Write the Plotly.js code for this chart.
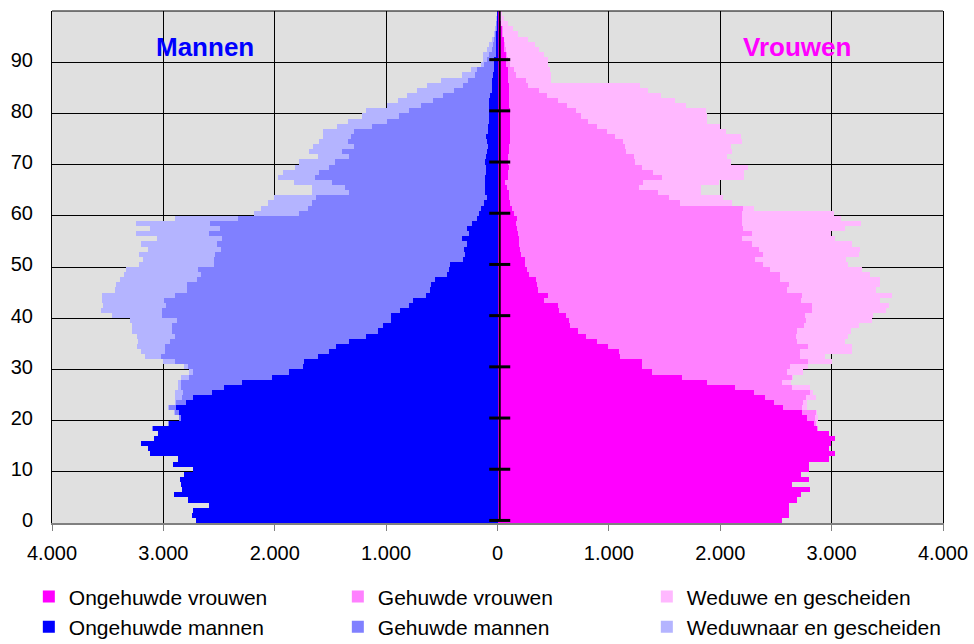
<!DOCTYPE html>
<html><head><meta charset="utf-8">
<script src="https://cdn.plot.ly/plotly-3.0.1.min.js"></script>
<style>html,body{margin:0;padding:0;background:#fff}#chart{width:974px;height:644px}</style>
</head><body><div id="chart"></div>
<script>
// Age categories 0..99
const ages = [];
for (let a = 0; a < 100; a++) ages.push(a);

// Men (persons per age)
const menUnmarried = [2706,2740,2733,2590,2778,2904,2832,2840,2850,2814, 2733,2913,2868,3119,3137,3200,3083,3047,3095,2950, 2841,2859,2890,2796,2733,2563,2455,2294,2024,1872, 1746,1737,1611,1513,1450,1333,1180,1073,1028,956, 956,875,794,759,642,606,597,561,453,435, 426,310,292,301,274,319,256,274,229,180, 166,148,121,94,112,112,112,109,103,103, 112,103,94,88,94,103,85,85,76,76, 76,76,76,67,49,49,49,43,31,31, 31,16,16,16,16,16,7,7,5,3];
const menMarried = [0,0,0,0,0,0,0,0,0,0, 0,0,0,0,0,0,0,0,6,8, 15,36,60,90,100,263,383,544,748,861, 1034,1158,1410,1472,1535,1607,1715,1849,1894,1921, 2056,2137,2182,2235,2253,2181,2190,2137,2209,2253, 2119,2235,2244,2181,2244,2154,2334,2217,2352,2149, 1616,1552,1544,1535,1221,1257,1374,1529,1499,1410, 1347,1230,1302,1200,1248,1212,1203,1042,916,808, 718,611,503,422,341,261,216,159,153,90, 63,60,33,24,15,9,5,3,2,2];
const menWidowed = [0,0,0,0,0,0,0,0,0,0, 0,0,0,0,0,0,0,0,0,0, 5,10,10,14,62,69,30,30,69,39, 34,108,143,215,251,287,341,359,359,422, 448,547,565,556,655,647,638,691,691,647, 673,637,682,655,682,584,655,628,664,566, 404,420,395,377,332,296,341,332,323,305, 323,278,296,368,260,251,278,314,350,332, 386,305,314,323,333,323,242,117,50,29, 36,54,45,36,18,6,13,6,3,2];

// Women
const womenUnmarried = [2554,2617,2617,2617,2689,2724,2805,2644,2796,2724, 2796,2796,2976,3030,2976,2990,3030,2980,2868,2841, 2778,2733,2563,2482,2401,2300,2132,1881,1656,1387, 1297,1297,1100,1091,992,893,794,723,651,642, 615,552,543,417,453,364,355,346,283,265, 250,247,211,202,193,193,184,175,166,175, 148,130,112,103,103,85,67,94,94,103, 94,94,103,103,112,112,112,112,112,112, 112,103,103,103,103,103,94,94,94,76, 76,76,58,58,58,40,40,30,20,10];
const womenMarried = [0,0,0,0,0,0,0,0,0,0, 0,0,0,0,0,0,0,0,10,19, 72,129,170,260,368,505,512,673,988,1212, 1329,1490,1615,1624,1795,1796,1886,1966,2100,2127, 2145,2271,2280,2307,2280,2235,2262,2190,2253,2181, 2130,2065,2172,2145,2092,2002,2101,2029,2029,2020, 2047,2074,1526,1436,1338,1185,1239,1383,1302,1194, 1140,1131,1050,1042,1015,943,871,781,700,638, 593,521,440,341,270,171,162,72,54,36, 18,9,18,9,4,10,5,5,5,5];
const womenWidowed = [0,0,0,0,0,0,0,0,0,0, 0,0,0,0,0,0,0,0,0,10, 30,8,45,36,90,27,161,81,9,143, 161,216,225,467,395,430,466,484,494,593, 611,664,691,710,808,799,817,898,808,826, 766,816,862,907,897,835,709,915,1068,888, 826,96,467,485,386,557,682,736,817,952, 862,835,952,951,1068,1131,1068,1104,1069,1131, 1167,1068,1050,1024,978,1005,224,314,322,341, 359,335,297,270,212,130,95,55,35,25];

const xTickVals = [-4000,-3000,-2000,-1000,0,1000,2000,3000,4000];
const xTickText = ['4.000','3.000','2.000','1.000','0','1.000','2.000','3.000','4.000'];
const yTickVals = [0,10,20,30,40,50,60,70,80,90];
const yTickText = ['0','10','20','30','40','50','60','70','80','90'];
const yGridVals = [9.5,19.5,29.5,39.5,49.5,59.5,69.5,79.5,89.5];
const centerAxisTicks = [0,10,20,30,40,50,60,70,80,90,100];

const neg = arr => arr.map(v => -v);

function bar(x, name, color) {
  return {type:'bar', orientation:'h', y: ages, x: x, name: name, width: 1,
          marker:{color: color, line:{width:0}}, hoverinfo:'skip'};
}

const traces = [
  bar(womenUnmarried, 'Ongehuwde vrouwen', '#FF00FF'),
  bar(womenMarried, 'Gehuwde vrouwen', '#FF80FF'),
  bar(womenWidowed, 'Weduwe en gescheiden', '#FFB8FF'),
  bar(neg(menUnmarried), 'Ongehuwde mannen', '#0000FF'),
  bar(neg(menMarried), 'Gehuwde mannen', '#8080FF'),
  bar(neg(menWidowed), 'Weduwnaar en gescheiden', '#B4B4FF'),
  {type:'scatter', mode:'lines+markers', x: centerAxisTicks.map(() => 20), y: centerAxisTicks,
   line:{color:'black', width:2}, marker:{symbol:'line-ew', size:15, color:'black', line:{color:'black', width:3}},
   showlegend:false, cliponaxis:false, hoverinfo:'skip'}
];

const layout = {
  width: 974, height: 644,
  margin: {l:52, r:31, t:11, b:121, pad:0, autoexpand:false},
  paper_bgcolor:'#FFFFFF', plot_bgcolor:'#E0E0E0',
  font: {family:'"Liberation Sans", Arial, sans-serif', size:20, color:'#000'},
  barmode:'relative', bargap:0,
  xaxis: {range:[-4000,4000], tickvals:xTickVals, ticktext:xTickText, showgrid:true, gridcolor:'#000', gridwidth:1,
          zeroline:false, showline:true, linecolor:'#808080', linewidth:2, ticks:'outside', ticklen:6,
          tickcolor:'#808080', tickwidth:1, ticklabelstandoff:5, automargin:false, fixedrange:true},
  yaxis: {range:[-0.5,99.5], tickvals:yTickVals, ticktext:yTickText, showgrid:false, zeroline:false,
          showline:true, mirror:true, linecolor:'#000', linewidth:1, ticks:'', ticklabelstandoff:14,
          minor:{tickvals:yGridVals, showgrid:true, gridcolor:'#000', gridwidth:1, ticks:''},
          automargin:false, fixedrange:true},
  shapes: [{type:'line', xref:'paper', yref:'paper', x0:0, x1:1, y0:1, y1:1, line:{color:'#000', width:1}}],
  annotations: [
    {text:'<b>Mannen</b>', x:-2630, xref:'x', y:0.929, yref:'paper', yanchor:'middle', xanchor:'center', showarrow:false,
     font:{size:26, color:'#0000FF'}},
    {text:'<b>Vrouwen</b>', x:2693, xref:'x', y:0.929, yref:'paper', yanchor:'middle', xanchor:'center', showarrow:false,
     font:{size:26, color:'#FF00FF'}}
  ],
  legend: {orientation:'h', x:-0.026, xanchor:'left', y:-0.104, yanchor:'top',
           entrywidth:264, entrywidthmode:'pixels', traceorder:'normal',
           font:{size:21}, bgcolor:'rgba(0,0,0,0)'},
  showlegend:true
};

Plotly.newPlot('chart', traces, layout, {displayModeBar:false, staticPlot:true});
</script>
</body></html>
